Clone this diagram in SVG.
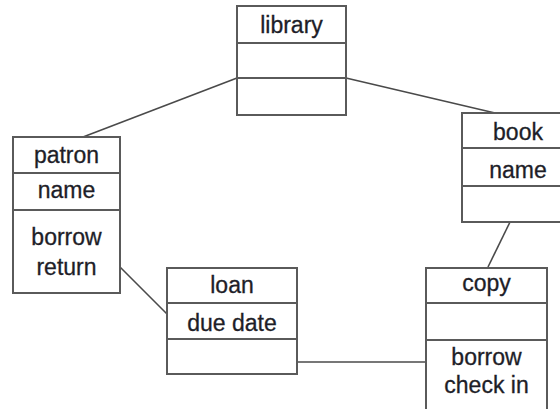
<svg xmlns="http://www.w3.org/2000/svg" width="560" height="409" viewBox="0 0 560 409">
  <style>
    .box { fill: #ffffff; stroke: #5a5a5a; stroke-width: 2; }
    .div { stroke: #5a5a5a; stroke-width: 2; }
    .link { stroke: #4a4a4a; stroke-width: 1.6; fill: none; }
    text { font-family: "Liberation Sans", Arial, sans-serif; font-size: 23px; fill: #1e1e28; stroke: #1e1e28; stroke-width: 0.3; text-anchor: middle; }
  </style>
  <rect x="0" y="0" width="560" height="409" fill="#ffffff"/>

  <!-- associations between classes -->
  <g id="connectors">
    <line class="link" x1="237" y1="78" x2="83" y2="137"/>
    <line class="link" x1="346" y1="78" x2="495" y2="113"/>
    <line class="link" x1="118" y1="265" x2="167" y2="314"/>
    <line class="link" x1="510" y1="222" x2="488" y2="267"/>
    <line class="link" x1="297" y1="362" x2="426" y2="362"/>
  </g>

  <g id="library">
    <rect class="box" x="237" y="6" width="109" height="109"/>
    <line class="div" x1="237" y1="43" x2="346" y2="43"/>
    <line class="div" x1="237" y1="78" x2="346" y2="78"/>
    <text x="291.5" y="33">library</text>
  </g>

  <g id="patron">
    <rect class="box" x="13" y="137" width="107" height="156"/>
    <line class="div" x1="13" y1="173" x2="120" y2="173"/>
    <line class="div" x1="13" y1="210" x2="120" y2="210"/>
    <text x="66.5" y="163">patron</text>
    <text x="66.5" y="198">name</text>
    <text x="66.5" y="245">borrow</text>
    <text x="66.5" y="275">return</text>
  </g>

  <g id="book">
    <rect class="box" x="462" y="113" width="112" height="109"/>
    <line class="div" x1="462" y1="148" x2="574" y2="148"/>
    <line class="div" x1="462" y1="186" x2="574" y2="186"/>
    <text x="518" y="140">book</text>
    <text x="518" y="178">name</text>
  </g>

  <g id="loan">
    <rect class="box" x="167" y="268" width="130" height="106"/>
    <line class="div" x1="167" y1="303" x2="297" y2="303"/>
    <line class="div" x1="167" y1="339" x2="297" y2="339"/>
    <text x="232" y="293">loan</text>
    <text x="232" y="331">due date</text>
  </g>

  <g id="copy">
    <rect class="box" x="426" y="268" width="121" height="160"/>
    <line class="div" x1="426" y1="303" x2="547" y2="303"/>
    <line class="div" x1="426" y1="340" x2="547" y2="340"/>
    <text x="486.5" y="291">copy</text>
    <text x="486.5" y="365">borrow</text>
    <text x="486.5" y="393">check in</text>
  </g>
</svg>
